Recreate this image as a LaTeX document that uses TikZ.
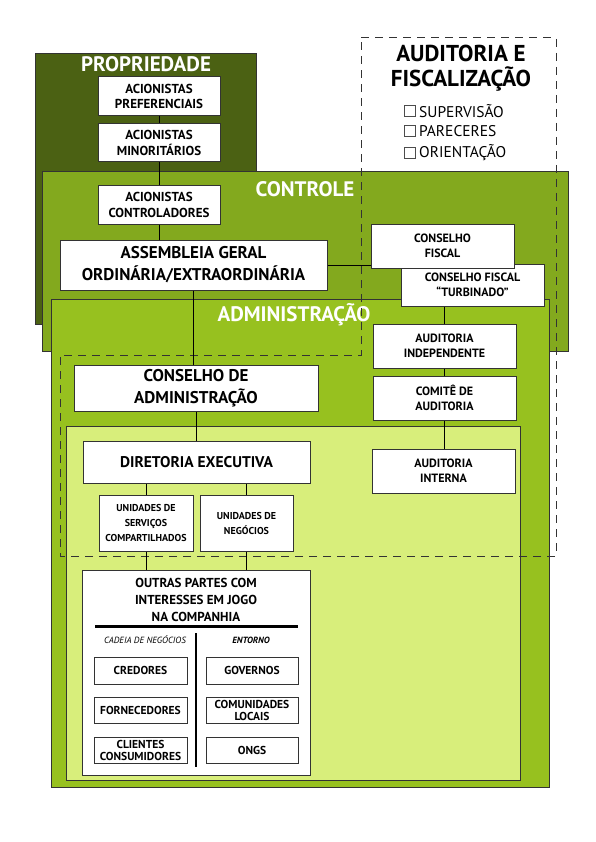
\documentclass[tikz,border=0pt]{standalone}
\usepackage{fontspec}
\setmainfont{PT Sans}
\usepackage{tikz}
\usetikzlibrary{positioning,calc}

\definecolor{propgreen}{HTML}{4B6113}
\definecolor{ctrlgreen}{HTML}{83A91E}
\definecolor{admgreen}{HTML}{97C11F}
\definecolor{lightgreen}{HTML}{D8EE7B}

\begin{document}
\begin{tikzpicture}[x=1pt, y=-1pt,
    box/.style={draw=black!80, line width=1pt, fill=white, align=center, inner sep=1pt,
                font=\bfseries\fontsize{13}{15.5}\selectfont},
    bigbox/.style={box, font=\bfseries\fontsize{17}{22}\selectfont},
    smallbox/.style={box, font=\bfseries\fontsize{12}{15}\selectfont},
    tinybox/.style={box, font=\bfseries\fontsize{10}{15}\selectfont},
    partbox/.style={box, font=\bfseries\fontsize{11.5}{12}\selectfont},
    areatitle/.style={text=white, font=\bfseries\fontsize{21}{21}\selectfont},
    area/.style={draw=black!80, line width=1pt},
    link/.style={black, line width=1pt},
    chkbox/.style={draw=black!70, line width=0.8pt, minimum size=11pt, inner sep=0pt},
    chktext/.style={anchor=west, inner sep=0pt, font=\fontsize{15.5}{15.5}\selectfont}]

    \useasboundingbox (0,0) rectangle (596,842);

    % Areas
    \draw[area, fill=propgreen] (35,54) rectangle (256,324);
    \draw[area, fill=ctrlgreen] (42,172) rectangle (568,351);
    \draw[area, fill=admgreen] (51,299) rectangle (549,787);
    \draw[area, fill=lightgreen] (66,426) rectangle (520,780);

    \node[areatitle] (tprop) at (146,64) {PROPRIEDADE};
    \node[areatitle] (tctrl) at (305,189) {CONTROLE};
    \node[areatitle] (tadm) at (294,315) {ADMINISTRAÇÃO};

    % Auditoria e fiscalizacao (dashed)
    \draw[black!80, line width=1pt, dash pattern=on 8pt off 6pt]
        (361,38) -- (556,38) -- (556,556) -- (60,556) -- (60,355) -- (361,355) -- cycle;
    \node[align=center, font=\bfseries\fontsize{23}{25}\selectfont] (taud) at (461,68)
        {AUDITORIA E\\FISCALIZAÇÃO};
    \node[chktext] (sup) at (419,111) {SUPERVISÃO};
    \node[chktext] (par) at (419,131) {PARECERES};
    \node[chktext] (ori) at (419,153) {ORIENTAÇÃO};
    \node[chkbox, left=3pt of sup] (csup) {};
    \node[chkbox, left=3pt of par] (cpar) {};
    \node[chkbox, left=3pt of ori] (cori) {};

    % Acionistas
    \node[box, minimum width=122pt, minimum height=39pt] (pref) at (159,96.5) {ACIONISTAS\\PREFERENCIAIS};
    \node[box, minimum width=122pt, minimum height=38pt] (mino) at (159,143) {ACIONISTAS\\MINORITÁRIOS};
    \node[box, minimum width=122pt, minimum height=38pt] (ctrl) at (159,205) {ACIONISTAS\\CONTROLADORES};
    \node[bigbox, minimum width=267pt, minimum height=50pt] (assem) at (193.5,265) {ASSEMBLEIA GERAL\\ORDINÁRIA/EXTRAORDINÁRIA};

    % Fiscalizacao
    \node[smallbox, minimum width=143pt, minimum height=42pt] (turb) at (472.5,285) {CONSELHO FISCAL\\``TURBINADO''};
    \node[smallbox, minimum width=143pt, minimum height=44pt] (cfis) at (442.5,246) {CONSELHO\\FISCAL};
    \node[smallbox, minimum width=143pt, minimum height=44pt] (audind) at (444.5,346) {AUDITORIA\\INDEPENDENTE};
    \node[smallbox, minimum width=143pt, minimum height=44pt] (comite) at (444.5,398) {COMITÊ DE\\AUDITORIA};
    \node[smallbox, minimum width=143pt, minimum height=44pt] (audint) at (443.5,471) {AUDITORIA\\INTERNA};

    % Administracao
    \node[bigbox, minimum width=244pt, minimum height=46pt] (consadm) at (196,388) {CONSELHO DE\\ADMINISTRAÇÃO};
    \node[box, font=\bfseries\fontsize{15.5}{17}\selectfont, minimum width=227pt, minimum height=42pt] (diret) at (196.5,462) {DIRETORIA EXECUTIVA};
    \node[tinybox, minimum width=94pt, minimum height=56pt] (unserv) at (146,523) {UNIDADES DE\\SERVIÇOS\\COMPARTILHADOS};
    \node[tinybox, minimum width=93pt, minimum height=56pt] (unneg) at (246.5,523) {UNIDADES DE\\NEGÓCIOS};

    % Outras partes
    \node[box, minimum width=228pt, minimum height=205pt] (outras) at (196,672.5) {};
    \node[align=center, font=\bfseries\fontsize{13}{17}\selectfont] (touts) at (196,600)
        {OUTRAS PARTES COM\\INTERESSES EM JOGO\\NA COMPANHIA};
    \coordinate (rulel) at (95,626);
    \coordinate (ruler) at (298,626);
    \coordinate (divt) at (196,633);
    \coordinate (divb) at (196,767);
    \draw[line width=3pt] (rulel) -- (ruler);
    \draw[line width=1.5pt] (divt) -- (divb);
    \node[font=\itshape\fontsize{9}{10}\selectfont] (tcad) at (145,640) {CADEIA DE NEGÓCIOS};
    \node[font=\bfseries\itshape\fontsize{9}{10}\selectfont] (tent) at (251,640) {ENTORNO};

    \node[partbox, minimum width=93pt, minimum height=27pt] (cred) at (140.5,670.5) {CREDORES};
    \node[partbox, minimum width=92pt, minimum height=27pt] (gov) at (252,670.5) {GOVERNOS};
    \node[partbox, minimum width=93pt, minimum height=26pt] (forn) at (140.5,710) {FORNECEDORES};
    \node[partbox, minimum width=92pt, minimum height=26pt] (comun) at (252,710) {COMUNIDADES\\LOCAIS};
    \node[partbox, minimum width=93pt, minimum height=26pt] (cli) at (140.5,750) {CLIENTES\\CONSUMIDORES};
    \node[partbox, minimum width=92pt, minimum height=26pt] (ongs) at (252,750) {ONGS};

    % Connectors
    \draw[link] (pref) -- (mino);
    \draw[link] (mino) -- (ctrl);
    \draw[link] (ctrl.south) -- (ctrl.south |- assem.north);
    \draw[link] (assem.east) -- (assem.east -| cfis.west);
    \draw[link] (assem.south) -- (assem.south |- consadm.north);
    \draw[link] (consadm.south) -- (consadm.south |- diret.north);
    \draw[link] (audind.north) -- (audind.north |- turb.south);
    \draw[link] (audind) -- (comite);
    \draw[link] (comite.south) -- (comite.south |- audint.north);
    \draw[link] (unserv.north) -- (unserv.north |- diret.south);
    \draw[link] (unneg.north) -- (unneg.north |- diret.south);
    \draw[link] (unserv.south) -- (unserv.south |- outras.north);
    \draw[link] (unneg.south) -- (unneg.south |- outras.north);
\end{tikzpicture}
\end{document}
